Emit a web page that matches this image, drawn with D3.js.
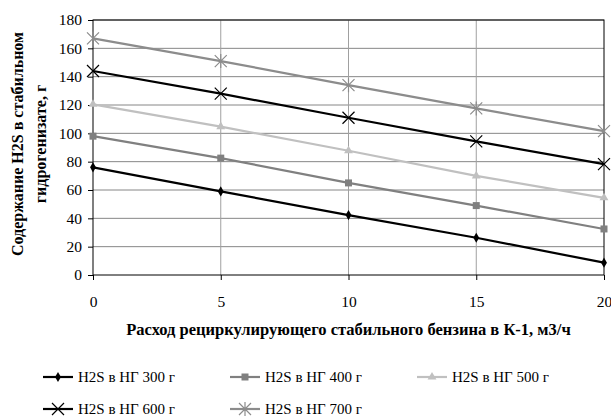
<!DOCTYPE html>
<html lang="ru">
<head>
<meta charset="UTF-8">
<title>H2S</title>
<script src="https://d3js.org/d3.v7.min.js"></script>
<style>
  body { margin: 0; background: #fff; }
  text { font-family: "Liberation Serif", "Times New Roman", serif; fill: #000; }
</style>
</head>
<body>
<svg width="611" height="418"></svg>
<script>
// data
const flows = [0, 5, 10, 15, 20];
const s300 = [76, 59, 42.3, 26.3, 8.7];
const s400 = [98, 82.5, 65, 49, 32.5];
const s500 = [120.5, 104.7, 87.7, 70, 54.5];
const s600 = [144, 128, 111, 94.3, 78.3];
const s700 = [167, 151, 134, 117.6, 101.6];
const seriesNames = ["H2S в НГ 300 г", "H2S в НГ 400 г", "H2S в НГ 500 г", "H2S в НГ 600 г", "H2S в НГ 700 г"];
const yTicks = [0, 20, 40, 60, 80, 100, 120, 140, 160, 180];
const xTicks = [0, 5, 10, 15, 20];

const series = [
  {name: seriesNames[0], values: s300, color: "#000000", marker: "diamond"},
  {name: seriesNames[1], values: s400, color: "#808080", marker: "square"},
  {name: seriesNames[2], values: s500, color: "#c0c0c0", marker: "triangle"},
  {name: seriesNames[3], values: s600, color: "#000000", marker: "x"},
  {name: seriesNames[4], values: s700, color: "#8c8c8c", marker: "star"}
];

const svg = d3.select("svg");
const plot = {left: 93, right: 604, top: 20, bottom: 275};

const x = d3.scaleLinear().domain([0, 20]).range([plot.left, plot.right]);
const y = d3.scaleLinear().domain([0, 180]).range([plot.bottom, plot.top]);

// grid
svg.append("g").selectAll("line").data(yTicks.slice(1)).join("line")
  .attr("x1", plot.left).attr("x2", plot.right)
  .attr("y1", d => y(d)).attr("y2", d => y(d))
  .attr("stroke", "#868686").attr("stroke-width", 1);
svg.append("g").selectAll("line").data(xTicks.slice(1, -1)).join("line")
  .attr("x1", d => x(d)).attr("x2", d => x(d))
  .attr("y1", plot.top).attr("y2", plot.bottom)
  .attr("stroke", "#a0a0a0").attr("stroke-width", 1);

// frame
svg.append("rect")
  .attr("x", plot.left).attr("y", plot.top)
  .attr("width", plot.right - plot.left).attr("height", plot.bottom - plot.top)
  .attr("fill", "none").attr("stroke", "#000").attr("stroke-width", 1);

// axes
const yAxis = svg.append("g")
  .attr("transform", `translate(${plot.left},0)`)
  .call(d3.axisLeft(y).tickValues(yTicks).tickSize(5).tickPadding(6));
const xAxis = svg.append("g")
  .attr("transform", `translate(0,${plot.bottom})`)
  .call(d3.axisBottom(x).tickValues(xTicks).tickSize(5).tickPadding(16));
[yAxis, xAxis].forEach(a => {
  a.select(".domain").remove();
  a.selectAll("line").attr("stroke", "#000");
  a.selectAll("text").style("font-family", '"Liberation Serif", serif').style("font-size", "15.5px").attr("fill", "#000");
});

// axis titles
const yTitle = svg.append("text")
  .attr("transform", "translate(0,144) rotate(-90)")
  .attr("text-anchor", "middle")
  .style("font-size", "16px").style("font-weight", "bold");
yTitle.append("tspan").attr("x", 0).attr("y", 23).text("Содержание H2S в стабильном");
yTitle.append("tspan").attr("x", 0).attr("y", 46).text("гидрогенизате, г");

svg.append("text")
  .attr("x", (plot.left + plot.right) / 2).attr("y", 335)
  .attr("text-anchor", "middle")
  .style("font-size", "16.5px").style("font-weight", "bold")
  .text("Расход рециркулирующего стабильного бензина в К-1, м3/ч");

// markers
function drawMarker(g, type, color) {
  if (type === "diamond") {
    g.append("path").attr("d", d3.symbol(d3.symbolDiamond, 30)()).attr("fill", color);
  } else if (type === "square") {
    g.append("rect").attr("x", -3.5).attr("y", -3.5).attr("width", 7).attr("height", 7).attr("fill", color);
  } else if (type === "triangle") {
    g.append("path").attr("d", d3.symbol(d3.symbolTriangle, 34)()).attr("fill", color);
  } else if (type === "x") {
    g.append("path").attr("d", "M-6,-6L6,6M-6,6L6,-6").attr("stroke", color).attr("stroke-width", 1.2).attr("fill", "none");
  } else if (type === "star") {
    g.append("path").attr("d", "M-6,-6L6,6M-6,6L6,-6M0,-7L0,7").attr("stroke", color).attr("stroke-width", 1.2).attr("fill", "none");
  }
}

const line = d3.line().x((d, i) => x(flows[i])).y(d => y(d));

series.forEach(s => {
  svg.append("path")
    .datum(s.values)
    .attr("d", line)
    .attr("fill", "none")
    .attr("stroke", s.color)
    .attr("stroke-width", 2.2);
  s.values.forEach((v, i) => {
    const g = svg.append("g").attr("transform", `translate(${x(flows[i])},${y(v)})`);
    drawMarker(g, s.marker, s.color);
  });
});

// legend
const legendPos = [[43, 377], [230, 377], [417, 377], [43, 409], [230, 409]];
series.forEach((s, i) => {
  const [lx, ly] = legendPos[i];
  const g = svg.append("g").attr("transform", `translate(${lx},${ly})`);
  g.append("line").attr("x1", 0).attr("x2", 30).attr("y1", 0).attr("y2", 0)
    .attr("stroke", s.color).attr("stroke-width", 2.2);
  const m = g.append("g").attr("transform", "translate(15,0)");
  drawMarker(m, s.marker, s.color);
  g.append("text").attr("x", 35).attr("y", 4.5)
    .style("font-size", "15px").text(s.name);
});
</script>
</body>
</html>
